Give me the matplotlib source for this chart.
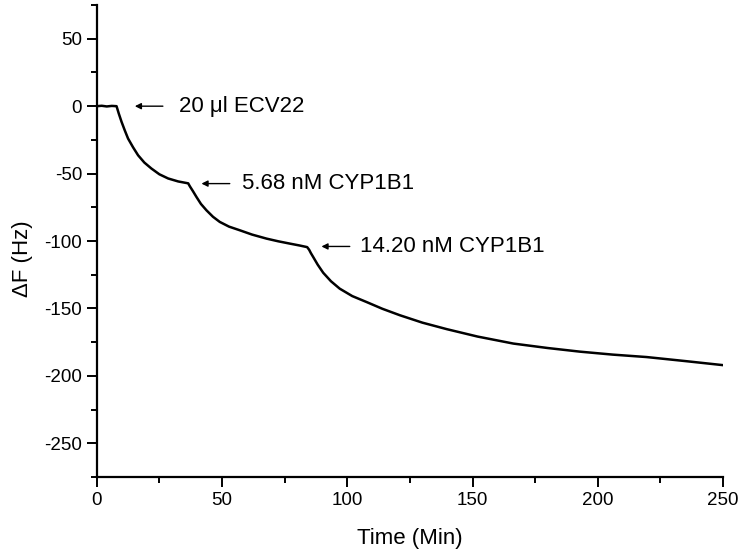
import matplotlib
matplotlib.use('Agg')
import matplotlib.pyplot as plt
from matplotlib.ticker import MultipleLocator

plt.rcParams['font.family'] = ['Liberation Sans', 'DejaVu Sans']
plt.rcParams['axes.unicode_minus'] = False

# points (time in min, frequency shift in Hz)
time_min = [0, 2, 4, 6, 7.9, 8.8, 9.9, 11.2, 12.5, 14.5, 16.5, 19, 21.8, 25, 28.5, 32.5, 36.5,
            37.2, 38.4, 39.8, 41.6, 43.8, 46.4, 49.1, 52.8, 57.1, 62, 67.8, 72.5, 77.1, 81, 84.0,
            84.8, 85.5, 86.4, 88.2, 90.4, 93.5, 97, 102, 107.7, 114, 121, 130, 139.7, 152, 166.3,
            180, 192.9, 206, 219.5, 235, 250]
delta_f = [0, 0.3, -0.2, 0.2, 0, -5.5, -11.6, -18, -24, -30.5, -36.4, -41.8, -46.2, -50.5, -53.6, -55.8, -57.2,
           -59.5, -63, -67.3, -72.5, -77.2, -82, -85.8, -89.3, -92, -95.2, -98.2, -100.2, -101.9, -103.3, -104.5,
           -106.5, -109, -111.8, -117.5, -123.5, -129.8, -135.3, -140.8, -145.2, -150.2, -155, -160.5, -165.3, -170.8, -176,
           -179.3, -182, -184.2, -186, -189, -192]

labels = ['20 \u03bcl ECV22', '5.68 nM CYP1B1', '14.20 nM CYP1B1']
arrow_head_t = [15.2, 41.8, 89.7]
arrow_tail_t = [26.4, 53.1, 101.0]
label_t = [32.7, 57.8, 105.0]
label_f = [0, -57.4, -104]

fig = plt.figure(figsize=(7.5, 5.58), dpi=100)
ax = fig.add_axes([0.129, 0.145, 0.835, 0.846])

ax.plot(time_min, delta_f, color='black', lw=1.8)

for lab, h, t, x, y in zip(labels, arrow_head_t, arrow_tail_t, label_t, label_f):
    ax.annotate('', xy=(h, y), xytext=(t, y),
                arrowprops=dict(arrowstyle='-|>', color='black', lw=1.0,
                                mutation_scale=9, shrinkA=0, shrinkB=0))
    ax.text(x, y, lab, fontsize=16, va='center', ha='left')

ax.set_xlim(0, 250)
ax.set_ylim(-275, 75)
ax.xaxis.set_major_locator(MultipleLocator(50))
ax.xaxis.set_minor_locator(MultipleLocator(25))
ax.yaxis.set_major_locator(MultipleLocator(50))
ax.yaxis.set_minor_locator(MultipleLocator(25))

for s in ['top', 'right']:
    ax.spines[s].set_visible(False)
for s in ['left', 'bottom']:
    ax.spines[s].set_linewidth(1.6)

ax.tick_params(which='major', direction='out', length=7, width=1.4, labelsize=13.5)
ax.tick_params(which='minor', direction='out', length=4, width=1.4)

ax.set_xlabel('Time (Min)', fontsize=16)
ax.set_ylabel('\u0394F (Hz)', fontsize=16)
ax.xaxis.set_label_coords(0.5, -0.108)
ax.yaxis.set_label_coords(-0.102, 0.462)

fig.savefig('out.png', dpi=100)
